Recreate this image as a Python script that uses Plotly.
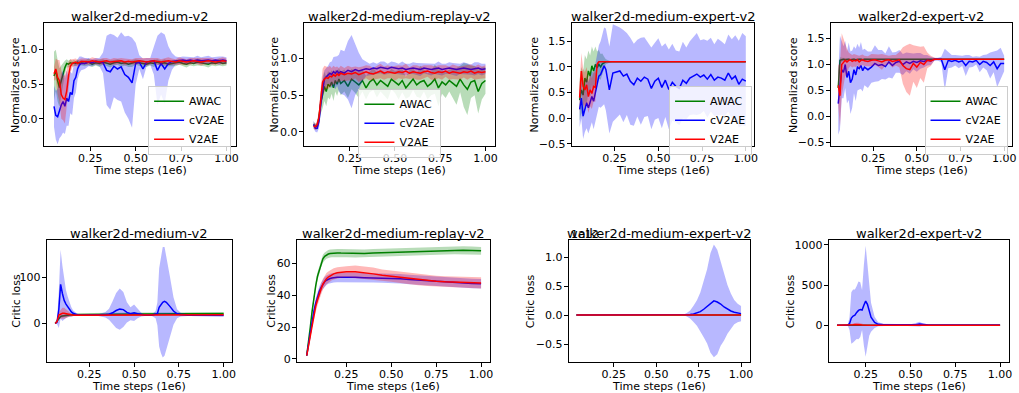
import plotly.graph_objects as go

W, H = 1019, 393

# ---------------- data ----------------
series_names = ["AWAC", "cV2AE", "V2AE"]
series_colors = ["#008000", "#0000ff", "#ff0000"]
band_colors = ["rgba(0,128,0,0.28)", "rgba(0,0,255,0.28)", "rgba(255,0,0,0.28)"]

titles = ["walker2d-medium-v2", "walker2d-medium-replay-v2", "walker2d-medium-expert-v2", "walker2d-expert-v2",
          "walker2d-medium-v2", "walker2d-medium-replay-v2", "walker2d-medium-expert-v2", "walker2d-expert-v2"]
x_title = "Time steps (1e6)"
y_titles = ["Normalized score"] * 4 + ["Critic loss"] * 4

x_tickvals = [0.25, 0.50, 0.75, 1.00]
x_ticktext = ["0.25", "0.50", "0.75", "1.00"]
y_tickvals = [[0.0, 0.5, 1.0], [0.0, 0.5, 1.0], [-0.5, 0.0, 0.5, 1.0, 1.5], [-0.5, 0.0, 0.5, 1.0, 1.5],
              [0, 100], [0, 20, 40, 60], [-0.5, 0.0, 0.5, 1.0], [0, 500, 1000]]
y_ticktext = [["0.0", "0.5", "1.0"], ["0.0", "0.5", "1.0"], ["\u22120.5", "0.0", "0.5", "1.0", "1.5"],
              ["\u22120.5", "0.0", "0.5", "1.0", "1.5"], ["0", "100"], ["0", "20", "40", "60"],
              ["\u22120.5", "0.0", "0.5", "1.0"], ["0", "500", "1000"]]
offset_text_p7 = "1e12"  # critic loss of panel 7 is expressed in units of 1e12

# evaluation steps (1e6) for the score curves
steps_top = [0.05, 0.06, 0.07, 0.08, 0.09, 0.10, 0.11, 0.12, 0.13, 0.14, 0.15, 0.16, 0.17, 0.18, 0.19, 0.20,
             0.22, 0.24, 0.26, 0.28, 0.30, 0.32, 0.34, 0.36, 0.38, 0.40, 0.42, 0.44, 0.46, 0.48, 0.50, 0.52,
             0.54, 0.56, 0.58, 0.60, 0.62, 0.64, 0.66, 0.68, 0.70, 0.72, 0.74, 0.76, 0.78, 0.80, 0.82, 0.84,
             0.86, 0.88, 0.90, 0.92, 0.94, 0.96, 0.98, 1.00]

# ---- walker2d-medium-v2 score ----
med_awac_mean = [0.62, 0.70, 0.55, 0.45, 0.55, 0.66, 0.74, 0.80, 0.79, 0.81, 0.80, 0.81, 0.80, 0.82, 0.80, 0.81,
                 0.80, 0.82, 0.79, 0.81, 0.80, 0.82, 0.80, 0.79, 0.81, 0.82, 0.80, 0.81, 0.79, 0.80, 0.82, 0.81,
                 0.80, 0.79, 0.81, 0.80, 0.82, 0.80, 0.81, 0.79, 0.80, 0.81, 0.82, 0.80, 0.79, 0.81, 0.80, 0.82,
                 0.81, 0.80, 0.79, 0.81, 0.80, 0.82, 0.80, 0.81]
med_awac_sd = [0.35, 0.30, 0.30, 0.28, 0.22, 0.15, 0.10, 0.06, 0.05, 0.05, 0.04, 0.04, 0.04, 0.04, 0.04, 0.04,
               0.04, 0.05, 0.04, 0.04, 0.05, 0.04, 0.04, 0.05, 0.04, 0.04, 0.05, 0.04, 0.04, 0.05, 0.04, 0.04,
               0.05, 0.04, 0.04, 0.05, 0.04, 0.04, 0.05, 0.04, 0.04, 0.05, 0.04, 0.04, 0.05, 0.04, 0.04, 0.05,
               0.04, 0.04, 0.05, 0.04, 0.04, 0.05, 0.04, 0.04]
med_cv2ae_mean = [0.18, 0.05, 0.03, 0.12, 0.20, 0.25, 0.18, 0.30, 0.25, 0.38, 0.35, 0.55, 0.60, 0.72, 0.78, 0.80,
                  0.80, 0.82, 0.81, 0.83, 0.82, 0.81, 0.70, 0.68, 0.76, 0.72, 0.75, 0.64, 0.60, 0.52, 0.80, 0.82,
                  0.72, 0.82, 0.83, 0.84, 0.70, 0.80, 0.72, 0.80, 0.83, 0.84, 0.84, 0.85, 0.84, 0.85, 0.84, 0.85,
                  0.84, 0.85, 0.85, 0.84, 0.85, 0.84, 0.85, 0.84]
med_cv2ae_sd = [0.30, 0.35, 0.40, 0.40, 0.45, 0.45, 0.40, 0.40, 0.35, 0.30, 0.30, 0.25, 0.22, 0.15, 0.12, 0.10,
                0.08, 0.06, 0.05, 0.05, 0.06, 0.15, 0.50, 0.55, 0.45, 0.45, 0.50, 0.55, 0.60, 0.65, 0.30, 0.10,
                0.15, 0.06, 0.05, 0.20, 0.50, 0.45, 0.50, 0.25, 0.12, 0.06, 0.05, 0.05, 0.06, 0.05, 0.05, 0.06,
                0.05, 0.05, 0.06, 0.05, 0.05, 0.06, 0.05, 0.05]
med_v2ae_mean = [0.65, 0.72, 0.60, 0.55, 0.35, 0.30, 0.28, 0.40, 0.62, 0.76, 0.80, 0.81, 0.82, 0.80, 0.82, 0.83,
                 0.83, 0.82, 0.84, 0.83, 0.82, 0.83, 0.84, 0.82, 0.83, 0.83, 0.84, 0.82, 0.83, 0.82, 0.83, 0.84,
                 0.83, 0.82, 0.83, 0.84, 0.83, 0.82, 0.83, 0.84, 0.83, 0.82, 0.84, 0.83, 0.82, 0.83, 0.84, 0.83,
                 0.82, 0.83, 0.84, 0.83, 0.82, 0.83, 0.84, 0.83]
med_v2ae_sd = [0.10, 0.15, 0.25, 0.30, 0.35, 0.32, 0.35, 0.30, 0.20, 0.10, 0.06, 0.05, 0.05, 0.05, 0.04, 0.04,
               0.04, 0.04, 0.05, 0.04, 0.04, 0.05, 0.04, 0.04, 0.05, 0.04, 0.04, 0.05, 0.04, 0.04, 0.05, 0.04,
               0.04, 0.05, 0.04, 0.04, 0.05, 0.04, 0.04, 0.05, 0.04, 0.04, 0.05, 0.04, 0.04, 0.05, 0.04, 0.04,
               0.05, 0.04, 0.04, 0.05, 0.04, 0.04, 0.05, 0.04]

# ---- walker2d-medium-replay-v2 score ----
rep_awac_mean = [0.10, 0.07, 0.08, 0.20, 0.40, 0.50, 0.62, 0.55, 0.65, 0.62, 0.68, 0.60, 0.70, 0.65, 0.72, 0.66,
                 0.70, 0.62, 0.72, 0.68, 0.64, 0.70, 0.60, 0.68, 0.72, 0.64, 0.70, 0.66, 0.62, 0.72, 0.68, 0.64,
                 0.70, 0.60, 0.66, 0.72, 0.64, 0.68, 0.70, 0.62, 0.66, 0.72, 0.60, 0.68, 0.64, 0.70, 0.66, 0.62,
                 0.72, 0.64, 0.58, 0.68, 0.70, 0.55, 0.66, 0.70]
rep_awac_sd = [0.04, 0.04, 0.05, 0.10, 0.15, 0.18, 0.20, 0.20, 0.18, 0.18, 0.16, 0.18, 0.15, 0.16, 0.15, 0.16,
               0.15, 0.16, 0.14, 0.15, 0.18, 0.15, 0.16, 0.14, 0.15, 0.17, 0.15, 0.16, 0.18, 0.14, 0.15, 0.20,
               0.16, 0.15, 0.18, 0.15, 0.16, 0.22, 0.15, 0.18, 0.16, 0.20, 0.25, 0.16, 0.18, 0.15, 0.20, 0.25,
               0.18, 0.30, 0.35, 0.22, 0.20, 0.30, 0.22, 0.18]
rep_cv2ae_mean = [0.10, 0.05, 0.05, 0.15, 0.40, 0.60, 0.72, 0.75, 0.78, 0.80, 0.78, 0.82, 0.80, 0.83, 0.80, 0.82,
                  0.80, 0.84, 0.82, 0.85, 0.83, 0.84, 0.86, 0.85, 0.87, 0.86, 0.88, 0.87, 0.86, 0.88, 0.87, 0.86,
                  0.87, 0.85, 0.86, 0.87, 0.86, 0.85, 0.87, 0.86, 0.85, 0.86, 0.87, 0.85, 0.86, 0.87, 0.86, 0.85,
                  0.86, 0.87, 0.86, 0.85, 0.86, 0.87, 0.85, 0.86]
rep_cv2ae_sd = [0.05, 0.05, 0.06, 0.10, 0.15, 0.15, 0.12, 0.12, 0.12, 0.15, 0.18, 0.20, 0.22, 0.20, 0.25, 0.30,
                0.30, 0.40, 0.50, 0.35, 0.25, 0.15, 0.10, 0.08, 0.08, 0.07, 0.08, 0.09, 0.07, 0.08, 0.08, 0.07,
                0.09, 0.08, 0.07, 0.08, 0.08, 0.09, 0.07, 0.08, 0.08, 0.07, 0.09, 0.08, 0.07, 0.08, 0.08, 0.09,
                0.07, 0.08, 0.08, 0.07, 0.09, 0.08, 0.08, 0.07]
rep_v2ae_mean = [0.08, 0.07, 0.10, 0.20, 0.45, 0.68, 0.72, 0.74, 0.73, 0.76, 0.75, 0.78, 0.76, 0.79, 0.77, 0.80,
                 0.78, 0.80, 0.79, 0.81, 0.78, 0.80, 0.82, 0.80, 0.79, 0.81, 0.83, 0.80, 0.82, 0.81, 0.80, 0.82,
                 0.81, 0.83, 0.80, 0.82, 0.81, 0.80, 0.82, 0.83, 0.81, 0.80, 0.82, 0.81, 0.83, 0.80, 0.82, 0.81,
                 0.80, 0.82, 0.81, 0.83, 0.80, 0.82, 0.81, 0.82]
rep_v2ae_sd = [0.04, 0.04, 0.05, 0.10, 0.15, 0.18, 0.18, 0.15, 0.15, 0.14, 0.12, 0.12, 0.12, 0.10, 0.10, 0.10,
               0.09, 0.10, 0.09, 0.08, 0.10, 0.09, 0.09, 0.10, 0.08, 0.09, 0.10, 0.09, 0.09, 0.08, 0.10, 0.09,
               0.09, 0.10, 0.08, 0.09, 0.10, 0.09, 0.09, 0.08, 0.10, 0.09, 0.09, 0.10, 0.08, 0.09, 0.10, 0.09,
               0.09, 0.08, 0.10, 0.09, 0.09, 0.10, 0.08, 0.09]

# ---- walker2d-medium-expert-v2 score ----
mex_awac_mean = [0.35, 0.55, 0.45, 0.78, 0.70, 0.92, 0.82, 1.02, 0.92, 1.05, 0.98, 1.05, 1.00, 1.06, 1.08, 1.10,
                 1.10, 1.10, 1.10, 1.10, 1.10, 1.10, 1.10, 1.10, 1.10, 1.10, 1.10, 1.10, 1.10, 1.10, 1.10, 1.10,
                 1.10, 1.10, 1.10, 1.10, 1.10, 1.10, 1.10, 1.10, 1.10, 1.10, 1.10, 1.10, 1.10, 1.10, 1.10, 1.10,
                 1.10, 1.10, 1.10, 1.10, 1.10, 1.10, 1.10, 1.10]
mex_awac_sd = [0.40, 0.45, 0.45, 0.45, 0.45, 0.40, 0.40, 0.38, 0.38, 0.35, 0.32, 0.28, 0.25, 0.20, 0.12, 0.05,
               0.02, 0.00, 0.00, 0.00, 0.00, 0.00, 0.00, 0.00, 0.00, 0.00, 0.00, 0.00, 0.00, 0.00, 0.00, 0.00,
               0.00, 0.00, 0.00, 0.00, 0.00, 0.00, 0.00, 0.00, 0.00, 0.00, 0.00, 0.00, 0.00, 0.00, 0.00, 0.00,
               0.00, 0.00, 0.00, 0.00, 0.00, 0.00, 0.00, 0.00]
mex_cv2ae_mean = [0.17, 0.39, 0.04, 0.18, 0.30, 0.20, 0.30, 0.42, 0.33, 0.50, 0.65, 0.82, 0.85, 0.94, 1.02, 0.95,
                  0.55, 0.88, 0.90, 0.92, 0.82, 0.86, 0.72, 0.65, 0.78, 0.72, 0.80, 0.76, 0.58, 0.72, 0.78, 0.60,
                  0.74, 0.56, 0.70, 0.62, 0.58, 0.74, 0.68, 0.78, 0.82, 0.86, 0.80, 0.84, 0.76, 0.85, 0.74, 0.80,
                  0.78, 0.74, 0.88, 0.76, 0.82, 0.66, 0.76, 0.72]
mex_cv2ae_sd = [0.35, 0.40, 0.45, 0.45, 0.50, 0.50, 0.50, 0.50, 0.55, 0.55, 0.60, 0.60, 0.65, 0.70, 0.75, 0.80,
                0.85, 0.95, 0.90, 0.85, 0.90, 0.80, 0.85, 0.80, 0.75, 0.85, 0.78, 0.72, 0.80, 0.75, 0.78, 0.80,
                0.72, 0.78, 0.75, 0.70, 0.72, 0.75, 0.70, 0.72, 0.75, 0.80, 0.72, 0.70, 0.75, 0.72, 0.70, 0.75,
                0.72, 0.70, 0.75, 0.78, 0.80, 0.85, 0.90, 0.88]
mex_v2ae_mean = [0.40, 0.92, 0.62, 0.55, 0.65, 0.42, 0.55, 0.48, 0.62, 0.60, 1.05, 1.10, 1.10, 1.10, 1.10, 1.10,
                 1.10, 1.10, 1.10, 1.10, 1.10, 1.10, 1.10, 1.10, 1.10, 1.10, 1.10, 1.10, 1.10, 1.10, 1.10, 1.10,
                 1.10, 1.10, 1.10, 1.10, 1.10, 1.10, 1.10, 1.10, 1.10, 1.10, 1.10, 1.10, 1.10, 1.10, 1.10, 1.10,
                 1.10, 1.10, 1.10, 1.10, 1.10, 1.10, 1.10, 1.10]
mex_v2ae_sd = [0.30, 0.35, 0.35, 0.35, 0.35, 0.32, 0.32, 0.30, 0.30, 0.28, 0.05, 0.00, 0.00, 0.00, 0.00, 0.00,
               0.00, 0.00, 0.00, 0.00, 0.00, 0.00, 0.00, 0.00, 0.00, 0.00, 0.00, 0.00, 0.00, 0.00, 0.00, 0.00,
               0.00, 0.00, 0.00, 0.00, 0.00, 0.00, 0.00, 0.00, 0.00, 0.00, 0.00, 0.00, 0.00, 0.00, 0.00, 0.00,
               0.00, 0.00, 0.00, 0.00, 0.00, 0.00, 0.00, 0.00]

# ---- walker2d-expert-v2 score ----
exp_awac_mean = [0.55, 1.08, 1.09, 1.10, 1.09, 1.10, 1.10, 1.09, 1.10, 1.10, 1.09, 1.10, 1.10, 1.10, 1.09, 1.10,
                 1.10, 1.10, 1.10, 1.10, 1.10, 1.10, 1.10, 1.10, 1.10, 1.10, 1.10, 1.10, 1.10, 1.10, 1.10, 1.10,
                 1.10, 1.10, 1.10, 1.10, 1.10, 1.10, 1.10, 1.10, 1.10, 1.10, 1.10, 1.10, 1.10, 1.10, 1.10, 1.10,
                 1.10, 1.10, 1.10, 1.10, 1.10, 1.10, 1.10, 1.10]
exp_awac_sd = [0.35, 0.06, 0.04, 0.03, 0.03, 0.02, 0.02, 0.02, 0.02, 0.02, 0.02, 0.02, 0.02, 0.02, 0.02, 0.02,
               0.01, 0.01, 0.01, 0.01, 0.01, 0.01, 0.01, 0.01, 0.01, 0.01, 0.01, 0.01, 0.01, 0.01, 0.01, 0.01,
               0.01, 0.01, 0.01, 0.01, 0.01, 0.01, 0.01, 0.01, 0.01, 0.01, 0.01, 0.01, 0.01, 0.01, 0.01, 0.01,
               0.01, 0.01, 0.01, 0.01, 0.01, 0.01, 0.01, 0.01]
exp_cv2ae_mean = [0.25, 0.65, 0.90, 0.85, 1.00, 0.75, 0.87, 0.65, 0.72, 0.90, 0.80, 0.95, 0.92, 0.98, 0.88, 0.95,
                  0.90, 0.95, 1.02, 0.98, 1.00, 0.96, 1.05, 0.98, 1.04, 1.06, 1.00, 1.05, 1.02, 1.06, 1.04, 1.07,
                  1.06, 1.08, 1.07, 1.10, 1.10, 1.10, 0.90, 1.08, 1.06, 1.08, 1.05, 1.07, 0.98, 1.06, 1.05, 1.08,
                  1.00, 1.06, 1.04, 0.98, 1.05, 0.92, 1.02, 1.02]
exp_cv2ae_sd = [0.60, 0.90, 0.55, 0.50, 0.45, 0.50, 0.55, 0.60, 0.55, 0.45, 0.50, 0.45, 0.40, 0.45, 0.40, 0.35,
                0.35, 0.30, 0.35, 0.30, 0.28, 0.25, 0.30, 0.25, 0.20, 0.22, 0.20, 0.18, 0.20, 0.15, 0.18, 0.15,
                0.12, 0.10, 0.08, 0.03, 0.03, 0.05, 0.40, 0.15, 0.12, 0.10, 0.12, 0.10, 0.20, 0.12, 0.10, 0.08,
                0.15, 0.12, 0.15, 0.25, 0.20, 0.35, 0.30, 0.15]
exp_v2ae_mean = [0.60, 0.40, 1.00, 1.05, 1.08, 1.05, 1.08, 1.09, 1.06, 1.08, 1.07, 1.09, 1.05, 1.08, 1.09, 1.07,
                 1.06, 1.08, 1.09, 1.07, 1.05, 1.08, 1.09, 1.06, 1.08, 1.09, 0.98, 0.92, 0.90, 1.02, 0.95, 1.04,
                 1.00, 1.08, 1.07, 1.10, 1.10, 1.10, 1.10, 1.10, 1.10, 1.10, 1.10, 1.10, 1.10, 1.10, 1.10, 1.10,
                 1.10, 1.10, 1.10, 1.10, 1.10, 1.10, 1.10, 1.10]
exp_v2ae_sd = [0.40, 0.60, 0.60, 0.45, 0.30, 0.25, 0.15, 0.12, 0.12, 0.12, 0.12, 0.10, 0.12, 0.10, 0.10, 0.10,
               0.10, 0.12, 0.10, 0.12, 0.15, 0.10, 0.08, 0.12, 0.10, 0.15, 0.35, 0.45, 0.50, 0.35, 0.40, 0.30,
               0.35, 0.15, 0.10, 0.03, 0.00, 0.00, 0.00, 0.00, 0.00, 0.00, 0.00, 0.00, 0.00, 0.00, 0.00, 0.00,
               0.00, 0.00, 0.00, 0.00, 0.00, 0.00, 0.00, 0.00]

# ---- critic loss: walker2d-medium-v2 ----
steps_c_med = [0.06, 0.07, 0.08, 0.09, 0.10, 0.11, 0.12, 0.13, 0.14, 0.15, 0.16, 0.18, 0.20, 0.25, 0.30, 0.34,
               0.36, 0.38, 0.40, 0.42, 0.44, 0.46, 0.48, 0.50, 0.52, 0.54, 0.56, 0.60, 0.62, 0.63, 0.64, 0.65,
               0.66, 0.67, 0.68, 0.70, 0.72, 0.74, 0.76, 0.80, 0.90, 1.00]
cmed_awac_mean = [0, 5, 12, 15, 16, 17, 17.5, 18, 18.5, 19, 19, 19.5, 20, 20, 20, 20,
                  20, 20.2, 20.3, 20.4, 20.5, 20.5, 20.6, 20.6, 20.7, 20.7, 20.8, 20.9, 21, 21, 21, 21,
                  21.1, 21.1, 21.1, 21.2, 21.2, 21.3, 21.3, 21.4, 21.5, 21.5]
cmed_awac_sd = [0, 1, 2, 2.5, 3, 3, 3, 3, 3, 3, 3, 3, 3, 3, 3, 3,
                3, 3, 3, 3, 3, 3, 3, 3, 3, 3, 3, 3, 3, 3, 3, 3,
                3, 3, 3, 3, 3, 3, 3, 3, 3, 3]
cmed_cv2ae_mean = [0, 3, 30, 85, 65, 50, 42, 36, 30, 25, 22, 19, 18, 18, 18, 19,
                   20, 23, 28, 31, 30, 24, 21, 23, 21, 19, 18, 18, 19, 21, 35, 40,
                   46, 48, 46, 37, 27, 21, 19, 18, 17.5, 17]
cmed_cv2ae_sd = [0, 4, 40, 75, 60, 42, 30, 22, 15, 10, 6, 3, 1, 1, 2, 6,
                 12, 25, 38, 45, 38, 22, 14, 18, 10, 4, 2, 2, 8, 25, 85, 105,
                 120, 118, 100, 65, 30, 10, 4, 2, 1, 1]
cmed_v2ae_mean = [0, 4, 18, 20, 22, 22, 21, 20, 19, 18, 18, 18, 18, 18, 18, 18.2,
                  18.2, 18.3, 18.3, 18.4, 18.4, 18.5, 18.5, 18.5, 18.6, 18.6, 18.6, 18.7, 18.7, 18.7, 18.8, 18.8,
                  18.8, 18.8, 18.9, 18.9, 18.9, 19, 19, 19, 19, 19]
cmed_v2ae_sd = [0, 2, 6, 10, 12, 12, 10, 7, 4, 3, 2, 2, 1.5, 1.5, 1.5, 1.5,
                1.5, 1.5, 1.5, 1.5, 1.5, 1.5, 1.5, 1.5, 1.5, 1.5, 1.5, 1.5, 1.5, 1.5, 1.5, 1.5,
                1.5, 1.5, 1.5, 1.5, 1.5, 1.5, 1.5, 1.5, 1.5, 1.5]

# ---- critic loss: walker2d-medium-replay-v2 ----
steps_c_rep = [0.03, 0.04, 0.05, 0.06, 0.07, 0.08, 0.09, 0.10, 0.11, 0.12, 0.13, 0.14, 0.15, 0.16, 0.17, 0.18,
               0.20, 0.22, 0.25, 0.30, 0.35, 0.40, 0.45, 0.50, 0.55, 0.60, 0.65, 0.70, 0.75, 0.80, 0.85, 0.90,
               0.95, 1.00]
crep_awac_mean = [2, 10, 20, 30, 39, 46, 52, 56, 60, 63, 64.5, 65.5, 66, 66.3, 66.5, 66.6,
                  66.7, 66.6, 66.5, 66.3, 66.4, 66.6, 66.8, 67, 67.2, 67.4, 67.6, 67.8, 68, 68.2, 68.3, 68.4,
                  68.2, 68.0]
crep_awac_sd = [0.5, 1, 1.5, 2, 2.5, 2.5, 2.5, 2.5, 2.5, 2.5, 2.5, 2.5, 2.5, 2.5, 2.5, 2.5,
                2.5, 2.5, 2.5, 2.5, 2.5, 2.5, 2.5, 2.5, 2.5, 2.5, 2.5, 2.5, 2.5, 2.5, 2.5, 2.5,
                2.5, 2.5]
crep_cv2ae_mean = [2, 9, 17, 24, 30, 35, 39, 42.5, 45, 47, 48.5, 49.5, 50.2, 50.6, 50.9, 51.1,
                   51.3, 51.4, 51.5, 51.4, 51.1, 51.0, 50.9, 50.8, 50.4, 50.0, 49.6, 49.2, 48.9, 48.5, 48.1, 47.8,
                   47.5, 47.3]
crep_cv2ae_sd = [0.5, 1, 2, 2.5, 3, 3, 3, 3, 3, 3, 3, 3, 3, 3, 3, 3,
                 3, 3, 3, 3, 3, 3, 3, 3, 3, 3, 3, 3, 3, 3, 3, 3,
                 3, 3]
crep_v2ae_mean = [2, 8, 15, 22, 28, 33, 37, 41, 44, 47, 49, 50.5, 51.5, 52.3, 53, 53.5,
                  54.2, 54.6, 54.8, 54.8, 54.3, 53.5, 52.7, 52, 51.3, 50.7, 49.8, 49.3, 48.8, 48.5, 48.3, 48.1,
                  48.0, 47.8]
crep_v2ae_sd = [0.5, 1, 2, 2.5, 3, 3.5, 3.5, 3.5, 3.5, 3.5, 3.5, 3.5, 3.5, 3.5, 3.5, 3.5,
                3.5, 3.5, 3.5, 4, 4, 4, 3.5, 3.5, 3.5, 3.5, 3.5, 3.5, 3.5, 3.5, 3.5, 3.5,
                3.5, 3.5]

# ---- critic loss: walker2d-medium-expert-v2 (units of 1e12) ----
steps_c_mex = [0.03, 0.10, 0.20, 0.30, 0.40, 0.50, 0.60, 0.64, 0.66, 0.68, 0.70, 0.72, 0.74, 0.76, 0.78, 0.80,
               0.82, 0.84, 0.86, 0.88, 0.90, 0.92, 0.94, 0.96, 0.98, 1.00]
cmex_awac_mean = [0, 0, 0, 0, 0, 0, 0, 0, 0, 0, 0, 0, 0, 0, 0, 0, 0, 0, 0, 0, 0, 0, 0, 0, 0, 0]
cmex_awac_sd = [0, 0, 0, 0, 0, 0, 0, 0, 0, 0, 0, 0, 0, 0, 0, 0, 0, 0, 0, 0, 0, 0, 0, 0, 0, 0]
cmex_cv2ae_mean = [0, 0, 0, 0, 0, 0, 0, 0, 0.002, 0.005, 0.01, 0.02, 0.035, 0.06, 0.10, 0.15,
                   0.21, 0.245, 0.225, 0.19, 0.14, 0.10, 0.07, 0.05, 0.035, 0.025]
cmex_cv2ae_sd = [0, 0, 0, 0, 0, 0, 0, 0, 0.005, 0.03, 0.07, 0.14, 0.22, 0.33, 0.48, 0.64,
                 0.86, 0.97, 0.90, 0.72, 0.58, 0.42, 0.30, 0.21, 0.16, 0.13]
cmex_v2ae_mean = [0, 0, 0, 0, 0, 0, 0, 0, 0, 0, 0, 0, 0, 0, 0, 0, 0, 0, 0, 0, 0, 0, 0, 0, 0, 0]
cmex_v2ae_sd = [0, 0, 0, 0, 0, 0, 0, 0, 0, 0, 0, 0, 0, 0, 0, 0, 0, 0, 0, 0, 0, 0, 0, 0, 0, 0]

# ---- critic loss: walker2d-expert-v2 ----
steps_c_exp = [0.09, 0.10, 0.12, 0.14, 0.15, 0.16, 0.17, 0.18, 0.19, 0.20, 0.21, 0.22, 0.23, 0.24, 0.25, 0.26,
               0.27, 0.28, 0.30, 0.32, 0.35, 0.40, 0.45, 0.50, 0.53, 0.55, 0.57, 0.60, 0.65, 0.70, 0.75, 0.80,
               0.85, 0.90, 0.95, 1.00]
cexp_awac_mean = [0, 0, 0, 0, 0, 0, 0, 0, 0, 0, 0, 0, 0, 0, 0, 0, 0, 0, 0, 0, 0, 0, 0, 0, 0, 0, 0, 0, 0, 0,
                  0, 0, 0, 0, 0, 0]
cexp_awac_sd = [1, 1, 1, 1, 1, 1, 1, 1, 1, 1, 1, 1, 1, 1, 1, 1, 1, 1, 1, 1, 1, 1, 1, 1, 1, 1, 1, 1, 1, 1,
                1, 1, 1, 1, 1, 1]
cexp_cv2ae_mean = [0, 0, 0, 0, 3, 20, 90, 115, 125, 160, 185, 195, 190, 250, 300, 260,
                   170, 100, 35, 12, 6, 5, 3, 4, 8, 15, 8, 4, 3, 5, 3, 4,
                   3, 3, 4, 3]
cexp_cv2ae_sd = [0, 0, 0, 1, 5, 80, 320, 330, 320, 330, 360, 340, 250, 500, 690, 500,
                 300, 180, 70, 25, 12, 10, 8, 10, 20, 30, 15, 8, 8, 10, 6, 8,
                 5, 5, 8, 5]
cexp_v2ae_mean = [0, 0, 0, 0, 0, 2, 5, 8, 10, 12, 10, 8, 5, 3, 2, 1,
                  0, 0, 0, 0, 0, 0, 0, 0, 0, 0, 0, 0, 0, 0, 0, 0,
                  0, 0, 0, 0]
cexp_v2ae_sd = [0, 0, 0, 0, 1, 5, 10, 15, 20, 20, 20, 15, 10, 5, 3, 2,
                1, 0, 0, 0, 0, 0, 0, 0, 0, 0, 0, 0, 0, 0, 0, 0,
                0, 0, 0, 0]

panels = [
    (steps_top, [(med_awac_mean, med_awac_sd), (med_cv2ae_mean, med_cv2ae_sd), (med_v2ae_mean, med_v2ae_sd)]),
    (steps_top, [(rep_awac_mean, rep_awac_sd), (rep_cv2ae_mean, rep_cv2ae_sd), (rep_v2ae_mean, rep_v2ae_sd)]),
    (steps_top, [(mex_awac_mean, mex_awac_sd), (mex_cv2ae_mean, mex_cv2ae_sd), (mex_v2ae_mean, mex_v2ae_sd)]),
    (steps_top, [(exp_awac_mean, exp_awac_sd), (exp_cv2ae_mean, exp_cv2ae_sd), (exp_v2ae_mean, exp_v2ae_sd)]),
    (steps_c_med, [(cmed_awac_mean, cmed_awac_sd), (cmed_cv2ae_mean, cmed_cv2ae_sd), (cmed_v2ae_mean, cmed_v2ae_sd)]),
    (steps_c_rep, [(crep_awac_mean, crep_awac_sd), (crep_cv2ae_mean, crep_cv2ae_sd), (crep_v2ae_mean, crep_v2ae_sd)]),
    (steps_c_mex, [(cmex_awac_mean, cmex_awac_sd), (cmex_cv2ae_mean, cmex_cv2ae_sd), (cmex_v2ae_mean, cmex_v2ae_sd)]),
    (steps_c_exp, [(cexp_awac_mean, cexp_awac_sd), (cexp_cv2ae_mean, cexp_cv2ae_sd), (cexp_v2ae_mean, cexp_v2ae_sd)]),
]

# ---------------- layout (pixel boxes of each axes) ----------------
boxes = [(44, 237, 22.7, 147), (305, 497, 22.7, 147), (574, 757, 22.7, 147), (834, 1016, 22.7, 147),
         (47, 233, 242.3, 366.7), (298, 492, 242.3, 366.7), (571, 753, 242.3, 366.7), (832, 1013, 242.3, 366.7)]
x_ranges = [(-0.006, 1.053), (-0.004, 1.053), (0.005, 1.047), (0.007, 1.045),
            (0.013, 1.047), (-0.025, 1.05), (-0.015, 1.053), (0.044, 1.05)]
y_ranges = [(-0.39, 1.38), (-0.19, 1.48), (-0.54, 1.85), (-0.56, 1.79),
            (-84, 182), (-2.1, 75.1), (-0.81, 1.30), (-458, 1066)]
ytitle_x = [15.5, 276, 537, 796.5, 17, 273, 532.5, 793.5]
# legend: (anchor x px, top px, xanchor)
legend_boxes = [(232, 86, "right"), (401.5, 89, "center"), (755, 86, "right"), (1011.5, 86, "right")]

FONT = "DejaVu Sans, Verdana, sans-serif"


def px(x):
    return x / W


def py(y):
    return 1 - y / H


fig = go.Figure()
annotations = []
layout = {}

for i, ((xs, ser), box) in enumerate(zip(panels, boxes)):
    k = i + 1
    xa = "x" if k == 1 else f"x{k}"
    ya = "y" if k == 1 else f"y{k}"
    leg = None
    if i < 4:
        leg = "legend" if k == 1 else f"legend{k}"
    for j, (mean, sd) in enumerate(ser):
        n = min(len(xs), len(mean), len(sd))
        xx = list(xs[:n])
        upper = [m + s for m, s in zip(mean[:n], sd[:n])]
        lower = [m - s for m, s in zip(mean[:n], sd[:n])]
        fig.add_trace(go.Scatter(x=xx + xx[::-1], y=upper + lower[::-1], fill="toself",
                                 fillcolor=band_colors[j], line=dict(width=0), mode="lines",
                                 hoverinfo="skip", showlegend=False, xaxis=xa, yaxis=ya))
        kw = dict(x=xx, y=list(mean[:n]), mode="lines", name=series_names[j],
                  line=dict(color=series_colors[j], width=1.5), xaxis=xa, yaxis=ya)
        if leg is not None:
            kw["legend"] = leg
            kw["showlegend"] = True
        else:
            kw["showlegend"] = False
        fig.add_trace(go.Scatter(**kw))

    x0, x1, y0, y1 = box
    axis_common = dict(showline=True, mirror=True, linecolor="black", linewidth=1, ticks="outside",
                       ticklen=4, tickwidth=1, tickcolor="black", showgrid=False, zeroline=False,
                       tickfont=dict(family=FONT, size=11, color="black"), fixedrange=True)
    layout["xaxis" if k == 1 else f"xaxis{k}"] = dict(
        domain=[px(x0), px(x1)], range=list(x_ranges[i]), anchor=ya, ticklabelstandoff=-2,
        tickvals=x_tickvals, ticktext=x_ticktext, **axis_common)
    layout["yaxis" if k == 1 else f"yaxis{k}"] = dict(
        domain=[py(y1), py(y0)], range=list(y_ranges[i]), anchor=xa, ticklabelstandoff=-1,
        tickvals=y_tickvals[i], ticktext=y_ticktext[i], **axis_common)

    cx = (x0 + x1) / 2
    annotations.append(dict(text=titles[i], x=px(cx), y=py(y0 + 3), xref="paper", yref="paper",
                            xanchor="center", yanchor="bottom", showarrow=False,
                            font=dict(family=FONT, size=13, color="black")))
    xt_y = 172.5 if i < 4 else 391
    annotations.append(dict(text=x_title, x=px(cx), y=py(xt_y), xref="paper", yref="paper",
                            xanchor="center", yanchor="middle", showarrow=False,
                            font=dict(family=FONT, size=11, color="black")))
    annotations.append(dict(text=y_titles[i], x=px(ytitle_x[i]), y=py((y0 + y1) / 2), xref="paper",
                            yref="paper", xanchor="center", yanchor="middle", textangle=-90,
                            showarrow=False, font=dict(family=FONT, size=11, color="black")))
    if k == 7:
        annotations.append(dict(text=offset_text_p7, x=px(x0), y=py(y0 + 3), xref="paper", yref="paper",
                                xanchor="left", yanchor="bottom", showarrow=False,
                                font=dict(family=FONT, size=11, color="black")))

for i, (lx, ly, anc) in enumerate(legend_boxes):
    name = "legend" if i == 0 else f"legend{i + 1}"
    layout[name] = dict(x=px(lx), y=py(ly), xanchor=anc, yanchor="top", xref="paper", yref="paper",
                        bgcolor="rgba(255,255,255,0.8)", bordercolor="#cccccc", borderwidth=1,
                        font=dict(family=FONT, size=11, color="black"), itemwidth=30,
                        tracegroupgap=0)

fig.update_layout(width=W, height=H, margin=dict(l=0, r=0, t=0, b=0), autosize=False,
                  paper_bgcolor="white", plot_bgcolor="white", annotations=annotations,
                  font=dict(family=FONT, size=11, color="black"), **layout)

fig.write_html("out.html")
